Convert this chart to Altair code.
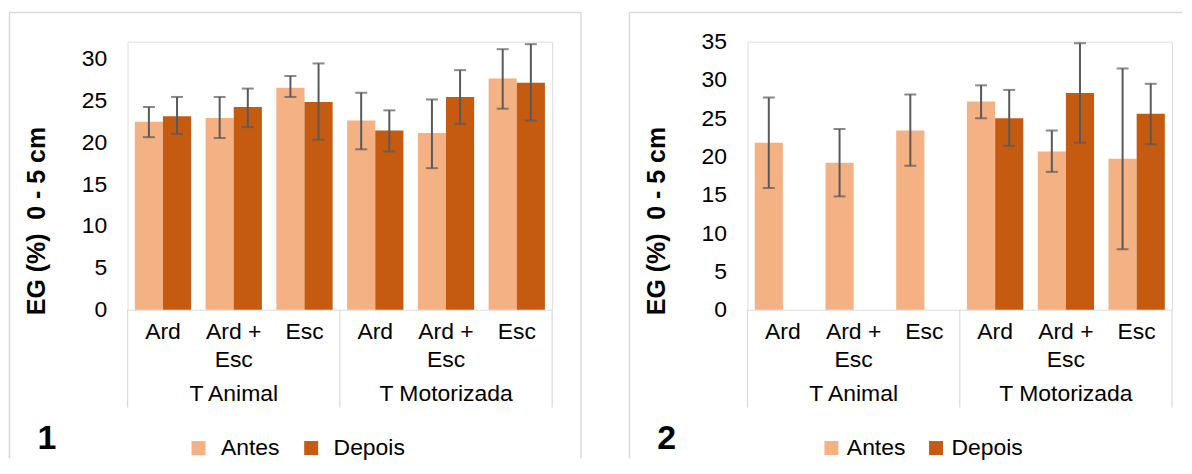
import altair as alt
import pandas as pd

groups = ["T Animal", "T Motorizada"]
treatments = ["Ard", "Ard + Esc", "Esc"]
tick_labels = ["Ard", "Ard +\nEsc", "Esc"]
series = ["Antes", "Depois"]
colors = ["#F4B183", "#C55A11"]

# Panel 1 values (mean, lower and upper end of the error bar)
p1_antes = [22.45, 22.9, 26.5, 22.6, 21.1, 27.6]
p1_antes_lo = [20.6, 20.5, 25.4, 19.15, 16.9, 24.0]
p1_antes_hi = [24.2, 25.4, 27.9, 25.9, 25.1, 31.1]
p1_depois = [23.1, 24.2, 24.8, 21.4, 25.4, 27.1]
p1_depois_lo = [21.0, 21.8, 20.3, 18.9, 22.2, 22.6]
p1_depois_hi = [25.4, 26.4, 29.4, 23.8, 28.6, 31.7]

# Panel 2 values
p2_antes = [21.8, 19.2, 23.4, 27.2, 20.65, 19.7]
p2_antes_lo = [15.9, 14.8, 18.8, 25.0, 18.0, 7.9]
p2_antes_hi = [27.7, 23.6, 28.1, 29.3, 23.4, 31.5]
p2_depois = [None, None, None, 25.0, 28.3, 25.6]
p2_depois_lo = [None, None, None, 21.4, 21.8, 21.6]
p2_depois_hi = [None, None, None, 28.7, 34.8, 29.5]

p1_ticks = [0, 5, 10, 15, 20, 25, 30]
p2_ticks = [0, 5, 10, 15, 20, 25, 30, 35]

y_title = "EG (%)\u00a0 0 - 5 cm"
FONT = "Liberation Sans"
GRAY = "#d9d9d9"
ERR = "#595959"

keys = [f"{g}|{t}" for g in groups for t in treatments]
key_labels = [lab for g in groups for lab in tick_labels]


def long_df(antes, alo, ahi, dep, dlo, dhi):
    rows = []
    for i, k in enumerate(keys):
        rows.append({"key": k, "series": "Antes", "value": antes[i], "lo": alo[i], "hi": ahi[i]})
        rows.append({"key": k, "series": "Depois", "value": dep[i], "lo": dlo[i], "hi": dhi[i]})
    return pd.DataFrame(rows)


def panel(df, ymax, yticks, number, legend_x, label_offset, col_pad, frame_right, top_right):
    W, H = 426, 269
    X = alt.X("key:N", scale=alt.Scale(domain=keys, paddingInner=0, paddingOuter=0), axis=None)
    XO = alt.XOffset("series:N", scale=alt.Scale(domain=series, paddingInner=0, paddingOuter=0.257))
    yscale = alt.Scale(domain=[0, ymax], nice=False, zero=True)
    yaxis = alt.Axis(values=yticks, labelFontSize=23, labelColor="black", labelFont=FONT,
                     labelPadding=21, ticks=False, tickSize=0, domain=False, grid=False,
                     labelOverlap=False, tickCount=len(yticks))
    base = alt.Chart(df)

    bars = base.mark_bar().encode(
        x=X,
        xOffset=XO,
        y=alt.Y("value:Q", scale=yscale, axis=yaxis, title=None),
        color=alt.Color("series:N", scale=alt.Scale(domain=series, range=colors),
                        legend=alt.Legend(orient="none", legendX=legend_x, legendY=396,
                                          direction="horizontal", columns=2, title=None,
                                          symbolType="square", symbolSize=196, symbolStrokeWidth=0,
                                          labelFontSize=23, labelFont=FONT, labelColor="black",
                                          labelOffset=label_offset, columnPadding=col_pad, padding=0)),
    )
    err = base.mark_rule(color=ERR, strokeWidth=2).encode(
        x=alt.X("key:N", axis=None), xOffset="series:N",
        y=alt.Y("lo:Q", scale=yscale, axis=yaxis, title=None), y2="hi:Q")
    cap_hi = base.mark_tick(color=ERR, thickness=2, size=12).encode(
        x=alt.X("key:N", axis=None), xOffset="series:N",
        y=alt.Y("hi:Q", scale=yscale, axis=yaxis, title=None))
    cap_lo = base.mark_tick(color=ERR, thickness=2, size=12).encode(
        x=alt.X("key:N", axis=None), xOffset="series:N",
        y=alt.Y("lo:Q", scale=yscale, axis=yaxis, title=None))

    lab_df = pd.DataFrame({"key": keys, "lab": key_labels})
    cat_labels = alt.Chart(lab_df).mark_text(
        lineBreak="\n", fontSize=23, font=FONT, color="black", align="center",
        baseline="alphabetic", lineHeight=28).encode(
        x=alt.X("key:N", axis=None), y=alt.value(298), text="lab:N")

    grp_df = pd.DataFrame({"key": [f"{g}|Ard + Esc" for g in groups], "lab": groups})
    grp_labels = alt.Chart(grp_df).mark_text(
        fontSize=23, font=FONT, color="black", align="center", baseline="alphabetic").encode(
        x=alt.X("key:N", axis=None), y=alt.value(361), text="lab:N")

    sep_start = alt.Chart(pd.DataFrame({"key": [keys[0], keys[3]]})).mark_rule(
        color=GRAY, strokeWidth=1.2).encode(
        x=alt.X("key:N", bandPosition=0, axis=None), y=alt.value(H), y2=alt.value(367))
    sep_end = alt.Chart(pd.DataFrame({"key": [keys[5]]})).mark_rule(
        color=GRAY, strokeWidth=1.2).encode(
        x=alt.X("key:N", bandPosition=1, axis=None), y=alt.value(H), y2=alt.value(367))

    one = pd.DataFrame({"a": [0]})
    frame_left = alt.Chart(one).mark_rule(color=GRAY, strokeWidth=1.5).encode(
        x=alt.value(-118.5), y=alt.value(-29.3), y2=alt.value(418))
    frame_top = alt.Chart(one).mark_rule(color=GRAY, strokeWidth=1.5).encode(
        x=alt.value(-118.5), x2=alt.value(top_right), y=alt.value(-29.3))
    layers = [frame_left, frame_top]
    if frame_right is not None:
        layers.append(alt.Chart(one).mark_rule(color=GRAY, strokeWidth=1.5).encode(
            x=alt.value(frame_right), y=alt.value(-29.3), y2=alt.value(418)))

    title = alt.Chart(one).mark_text(
        angle=270, fontSize=25, fontWeight="bold", font=FONT, color="black",
        align="center", baseline="middle").encode(
        x=alt.value(-91), y=alt.value(180), text=alt.value(y_title))
    num = alt.Chart(one).mark_text(
        fontSize=34, fontWeight="bold", font=FONT, color="black",
        align="center", baseline="middle").encode(
        x=alt.value(-81), y=alt.value(399), text=alt.value(number))

    return alt.layer(bars, err, cap_hi, cap_lo, cat_labels, grp_labels, sep_start, sep_end,
                     *layers, title, num).properties(width=W, height=H)


df1 = long_df(p1_antes, p1_antes_lo, p1_antes_hi, p1_depois, p1_depois_lo, p1_depois_hi)
df2 = long_df(p2_antes, p2_antes_lo, p2_antes_hi, p2_depois, p2_depois_lo, p2_depois_hi)

c1 = panel(df1, 32, p1_ticks, "1", 59.7, 11, 20, 455, 455)
c2 = panel(df2, 35, p2_ticks, "2", 72.7, 4, 19, None, 436)

chart = alt.hconcat(c1, c2, spacing=45).resolve_scale(
    x="independent", y="independent", color="independent", xOffset="independent"
).resolve_legend(color="independent").properties(
    padding={"left": 0, "top": 2, "right": 0, "bottom": 0},
    background="white",
).configure_view(stroke=GRAY, strokeWidth=1.2).configure(font=FONT)

chart.save("out.html", embed_options={"renderer": "svg", "actions": False})
